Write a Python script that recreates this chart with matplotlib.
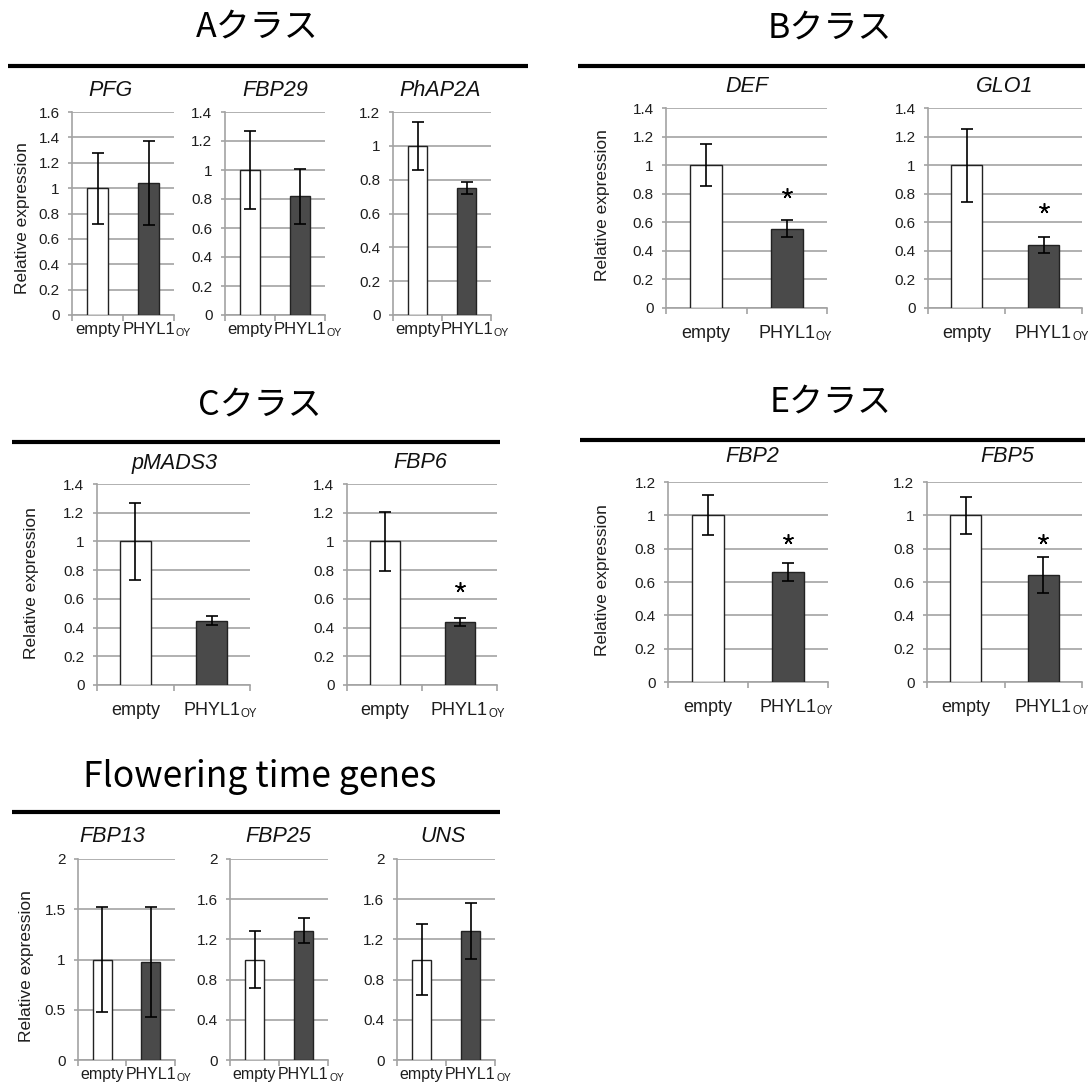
import numpy as np
import matplotlib
matplotlib.use("Agg")
import matplotlib.pyplot as plt
from matplotlib.lines import Line2D

plt.rcParams["font.family"] = ["Liberation Sans", "DejaVu Sans"]

# ---- data -------------------------------------------------------------
genes = ["PFG", "FBP29", "PhAP2A", "DEF", "GLO1", "pMADS3", "FBP6",
         "FBP2", "FBP5", "FBP13", "FBP25", "UNS"]
empty_mean = [1.0, 1.0, 1.0, 1.0, 1.0, 1.0, 1.0, 1.0, 1.0, 1.0, 1.0, 1.0]
empty_err = [0.28, 0.27, 0.14, 0.145, 0.255, 0.27, 0.205, 0.12, 0.113, 0.524, 0.28, 0.356]
phyl_mean = [1.04, 0.82, 0.75, 0.555, 0.443, 0.449, 0.44, 0.66, 0.644, 0.978, 1.288, 1.284]
phyl_err = [0.33, 0.19, 0.035, 0.06, 0.057, 0.03, 0.03, 0.055, 0.107, 0.549, 0.127, 0.28]
star_y = [None, None, None, 0.805, 0.70, None, 0.68, 0.86, 0.86, None, None, None]
y_max = [1.6, 1.4, 1.2, 1.4, 1.4, 1.4, 1.4, 1.2, 1.2, 2.0, 2.0, 2.0]
y_step = [0.2, 0.2, 0.2, 0.2, 0.2, 0.2, 0.2, 0.2, 0.2, 0.5, 0.4, 0.4]
cat_empty = "empty"
cat_phyl = "PHYL1"
cat_phyl_sub = "OY"
section_titles = ["Aクラス", "Bクラス", "Cクラス", "Eクラス", "Flowering time genes"]
y_label = "Relative expression"

# ---- layout (pixels) -------------------------------------------------
W, H = 1088, 1086
fig = plt.figure(figsize=(W / 100, H / 100), dpi=100)

# axes boxes: left, right, top, bottom
boxes = [(72, 174, 112, 315), (225, 325, 112, 315), (393, 491, 112, 315),
         (666, 827, 108, 308), (928, 1082, 108, 308),
         (97, 250, 484, 685), (347, 497, 484, 685),
         (668, 828, 482, 682), (927, 1082, 482, 682),
         (78, 175, 859, 1060), (230, 328, 859, 1060), (397, 495, 859, 1060)]
gene_title_pos = [(110, 90), (275, 90), (440, 90), (747, 87), (1005, 87),
                  (175, 463), (420, 463), (752, 457), (1007, 457),
                  (112, 837), (278, 837), (443, 837)]
label_size = [12, 12, 12, 13, 13, 13, 13, 13, 13, 11.5, 11.5, 11.5]
label_pad = [1, 1, 1, 8, 8, 8, 8, 8, 8, 1, 1, 1]

section_title_pos = [(257, 27), (830, 28), (260, 405), (831, 402), (260, 777)]
section_title_size = [24.5, 24.5, 24.5, 24.5, 25.5]
section_lines = [(8, 528, 66), (578, 1085, 66), (12, 500, 442), (580, 1085, 440), (12, 500, 812)]
ylabel_pos = [(23, 218), (603, 205), (32, 583), (603, 580), (27, 966)]

GRID = "#a3a3a3"
DARK = "#4a4a4a"
TEXT = "#1e1e1e"

for i, g in enumerate(genes):
    l, r, t, b = boxes[i]
    ax = fig.add_axes([l / W, 1 - b / H, (r - l) / W, (b - t) / H])
    ax.bar([0.5, 1.5], [empty_mean[i], phyl_mean[i]], width=0.4,
           color=["white", DARK], edgecolor="#222222", linewidth=1.0, zorder=3)
    ax.errorbar([0.5, 1.5], [empty_mean[i], phyl_mean[i]],
                yerr=[empty_err[i], phyl_err[i]], fmt="none", ecolor="black",
                elinewidth=1.2, capsize=4, capthick=1.2, zorder=4)
    if star_y[i] is not None:
        ax.plot(1.5, star_y[i], marker=(5, 2, 0), markersize=7.5,
                color="black", mew=1.1, zorder=5)
    ax.set_xlim(0, 2)
    ax.set_ylim(0, y_max[i])
    ticks = np.round(np.arange(0, y_max[i] + 1e-9, y_step[i]), 2)
    ax.set_yticks(ticks)
    ax.set_yticklabels(["%g" % v for v in ticks])
    ax.yaxis.grid(True, color=GRID, lw=1.2)
    ax.set_axisbelow(True)
    for s in ["top", "right"]:
        ax.spines[s].set_visible(False)
    for s in ["left", "bottom"]:
        ax.spines[s].set_color(GRID)
        ax.spines[s].set_linewidth(1.2)
    ax.set_xticks([0, 1, 2])
    ax.set_xticklabels([])
    ax.tick_params(axis="x", which="major", length=4, color=GRID, width=1.2)
    ax.tick_params(axis="y", length=3, color=GRID, width=1.2, pad=6,
                   labelsize=11, labelcolor=TEXT)

    # category labels under the bars
    fs = label_size[i]
    pad = 4 + label_pad[i]
    ax.annotate(cat_empty, xy=(0.5, 0), xycoords=("data", "axes fraction"),
                xytext=(0, -pad), textcoords="offset points",
                ha="center", va="top", fontsize=fs, color=TEXT)
    main = ax.annotate(cat_phyl, xy=(1.5, 0), xycoords=("data", "axes fraction"),
                       xytext=(0, -pad), textcoords="offset points",
                       ha="center", va="top", fontsize=fs, color=TEXT)
    ax.annotate(cat_phyl_sub, xy=(1, 0), xycoords=main,
                xytext=(0.3, -1.0), textcoords="offset points",
                ha="left", va="bottom", fontsize=fs * 0.64, color=TEXT)

    x, y = gene_title_pos[i]
    fig.text(x / W, 1 - y / H, g, ha="center", va="center", fontsize=15.5,
             style="italic", color="#111111")

for (x, y), txt, fs in zip(section_title_pos, section_titles, section_title_size):
    fig.text(x / W, 1 - y / H, txt, ha="center", va="center", fontsize=fs,
             family=["Noto Sans CJK JP", "DejaVu Sans"], color="black")

for x0, x1, y in section_lines:
    fig.add_artist(Line2D([x0 / W, x1 / W], [1 - y / H, 1 - y / H],
                          lw=3, color="black", solid_capstyle="butt"))

for x, y in ylabel_pos:
    fig.text(x / W, 1 - y / H, y_label, rotation=90, ha="center", va="center",
             fontsize=12.5, color=TEXT)

fig.savefig("out.png", dpi=100, facecolor="white")
